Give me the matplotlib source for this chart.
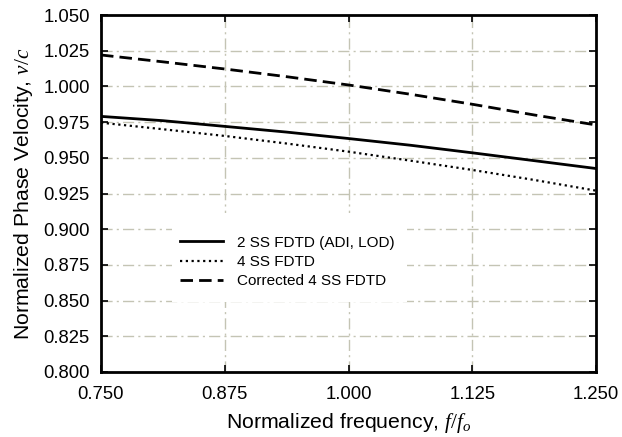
import matplotlib
matplotlib.use("Agg")
import matplotlib.pyplot as plt
from matplotlib.patches import Rectangle

freq = [0.75, 0.8125, 0.875, 0.9375, 1.0, 1.0625, 1.125, 1.1875, 1.25]
ss2 = [0.979, 0.976, 0.972, 0.968, 0.9635, 0.9588, 0.9535, 0.948, 0.9425]
ss4 = [0.9746, 0.970, 0.9653, 0.960, 0.9543, 0.948, 0.9415, 0.9345, 0.927]
ss4c = [1.022, 1.0172, 1.0122, 1.0068, 1.001, 0.9945, 0.9875, 0.980, 0.973]
labels = ["2 SS FDTD (ADI, LOD)", "4 SS FDTD", "Corrected 4 SS FDTD"]
xticks = [0.75, 0.875, 1.0, 1.125, 1.25]
yticks = [0.8, 0.825, 0.85, 0.875, 0.9, 0.925, 0.95, 0.975, 1.0, 1.025, 1.05]

plt.rcParams['font.family'] = ['Liberation Sans', 'DejaVu Sans']
plt.rcParams['mathtext.fontset'] = 'custom'
plt.rcParams['mathtext.it'] = 'Liberation Serif:italic'
plt.rcParams['mathtext.rm'] = 'Liberation Serif'

fig = plt.figure(figsize=(6.22, 4.37), dpi=100)
ax = fig.add_axes([101/622, 1-372/437, (596-101)/622, (372-15)/437])

ax.plot(freq, ss2, color='black', lw=2.0, ls='-', label=labels[0], zorder=3)
ax.plot(freq, ss4, color='black', lw=1.6, ls=(0, (1, 1.6)), label=labels[1], zorder=3)
ax.plot(freq, ss4c, color='black', lw=2.0, ls=(0, (4.5, 2.2)), label=labels[2], zorder=3)

ax.set_xlim(0.75, 1.25)
ax.set_ylim(0.8, 1.05)
ax.set_xticks(xticks)
ax.set_yticks(yticks)
ax.set_xticklabels([f"{v:.3f}" for v in xticks])
ax.set_yticklabels([f"{v:.3f}" for v in yticks])
ax.tick_params(direction='in', length=5, width=1.2, labelsize=13.3,
               top=True, right=True)
ax.tick_params(axis='x', pad=10)
ax.tick_params(axis='y', pad=8)
ax.grid(True, color='#c4c4b4', ls=(0, (8, 3, 1.5, 3)), lw=1.0)
ax.set_axisbelow(True)
for s in ax.spines.values():
    s.set_linewidth(2.0)

ax.set_xlabel(r"Normalized frequency, $f/f_o$", fontsize=15.3, labelpad=6)
ax.set_ylabel(r"Normalized Phase Velocity, $v/c$", fontsize=15.3, labelpad=6)

# white background box behind legend
ax.add_patch(Rectangle(((172-101)/495, (372-302)/357), (407-172)/495, (302-213)/357,
                       transform=ax.transAxes, facecolor='white', edgecolor='none',
                       zorder=2))

leg = ax.legend(loc='center left', bbox_to_anchor=((180-101)/495, (372-262)/357),
                frameon=False, fontsize=11, handlelength=2.8, handletextpad=0.9,
                borderpad=0, borderaxespad=0, labelspacing=0.35)
leg.set_zorder(5)

fig.savefig("out.png", dpi=100)
